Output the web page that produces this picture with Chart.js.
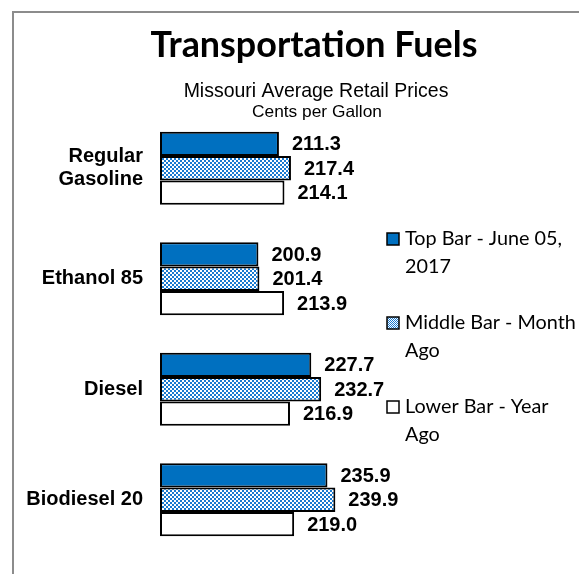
<!DOCTYPE html>
<html>
<head>
<meta charset="utf-8">
<script src="https://cdn.jsdelivr.net/npm/chart.js@4.4.1/dist/chart.umd.min.js"></script>
<style>
  html, body { margin: 0; padding: 0; background: #fff; }
  canvas { display: block; }
</style>
</head>
<body>
<canvas id="fuelChart" width="579" height="574"></canvas>
<script>
// data
const categories = [["Regular", "Gasoline"], "Ethanol 85", "Diesel", "Biodiesel 20"];
const topBar = [211.3, 200.9, 227.7, 235.9];     // June 05, 2017
const middleBar = [217.4, 201.4, 232.7, 239.9];  // month ago
const lowerBar = [214.1, 213.9, 216.9, 219.0];   // year ago
const legendLines = [
  ["Top Bar - June 05,", "2017"],
  ["Middle Bar - Month", "Ago"],
  ["Lower Bar - Year", "Ago"]
];
const axisMin = 151, axisMax = 260;

const BLUE = '#0070c0';

// dotted fill for the middle bar
function dotPattern(ctx, cell) {
  const tile = document.createElement('canvas');
  tile.width = cell * 2; tile.height = cell * 2;
  const t = tile.getContext('2d');
  t.fillStyle = '#fff';
  t.fillRect(0, 0, cell * 2, cell * 2);
  t.fillStyle = '#1a7ad0';
  t.fillRect(0, 0, cell, cell);
  t.fillRect(cell, cell, cell, cell);
  return ctx.createPattern(tile, 'repeat');
}

const canvas = document.getElementById('fuelChart');
const ctx = canvas.getContext('2d');
const dots = dotPattern(ctx, 2);

function fitSize(c, text, width, weight, family) {
  c.font = weight + ' 40px ' + family;
  return 40 * width / c.measureText(text).width;
}

// titles, frame, legend, value labels
const decorations = {
  id: 'decorations',
  afterDatasetsDraw(chart) {
    const c = chart.ctx;
    c.save();
    c.fillStyle = '#000';
    c.font = 'bold 20px "Liberation Sans", Arial, sans-serif';
    c.textAlign = 'left';
    c.textBaseline = 'middle';
    chart.data.datasets.forEach((ds, i) => {
      chart.getDatasetMeta(i).data.forEach((bar, j) => {
        c.fillText(ds.data[j].toFixed(1), bar.x + 13, bar.y + 1);
      });
    });
    c.restore();
  },
  afterDraw(chart) {
    const c = chart.ctx;
    c.save();
    // frame
    c.strokeStyle = '#8c8c8c';
    c.lineWidth = 2;
    c.beginPath();
    c.moveTo(13, 574); c.lineTo(13, 12); c.lineTo(579, 12);
    c.stroke();

    // titles
    c.fillStyle = '#000';
    c.textAlign = 'center';
    c.textBaseline = 'alphabetic';
    let s = fitSize(c, 'Transportation Fuels', 327, 'bold', 'Lato');
    c.font = 'bold ' + s + 'px Lato';
    c.fillText('Transportation Fuels', 314, 57);
    s = fitSize(c, 'Missouri Average Retail Prices', 265, 'normal', '"Liberation Sans"');
    c.font = s + 'px "Liberation Sans"';
    c.fillText('Missouri Average Retail Prices', 316, 97);
    s = fitSize(c, 'Cents per Gallon', 130, 'normal', '"Liberation Sans"');
    c.font = s + 'px "Liberation Sans"';
    c.fillText('Cents per Gallon', 317, 117);

    // legend
    const baselines = [245, 329, 413];
    s = Math.min(fitSize(c, legendLines[0][0], 163, 'normal', 'Lato'),
                 fitSize(c, legendLines[1][0], 171, 'normal', 'Lato'));
    c.font = s + 'px Lato';
    c.textAlign = 'left';
    chart.data.datasets.forEach((ds, i) => {
      const y = baselines[i];
      c.fillStyle = i === 1 ? dotPattern(c, 1) : ds.backgroundColor;
      c.fillRect(387, y - 12, 12, 12);
      c.strokeStyle = '#000';
      c.lineWidth = 1.5;
      c.strokeRect(387, y - 12, 12, 12);
      c.fillStyle = '#000';
      legendLines[i].forEach((line, k) => c.fillText(line, 405, y + k * 28));
    });
    c.restore();
  }
};

new Chart(canvas, {
  type: 'bar',
  data: {
    labels: categories,
    datasets: [
      { data: topBar, backgroundColor: BLUE },
      { data: middleBar, backgroundColor: dots },
      { data: lowerBar, backgroundColor: '#fff' }
    ]
  },
  options: {
    responsive: false,
    animation: false,
    indexAxis: 'y',
    layout: { padding: { top: 113, bottom: 19, left: 0, right: 204 } },
    datasets: {
      bar: {
        base: axisMin,
        categoryPercentage: 0.66,
        barPercentage: 1,
        borderColor: '#000',
        borderWidth: 2,
        borderSkipped: false
      }
    },
    plugins: {
      legend: { display: false },
      tooltip: { enabled: false }
    },
    scales: {
      x: { display: false, min: axisMin, max: axisMax },
      y: {
        afterFit(scale) {
          scale.width = 160;
          scale.paddingTop = 0;
          scale.paddingBottom = 0;
        },
        grid: { display: false, drawTicks: false },
        border: { display: false },
        ticks: {
          padding: 17,
          color: '#000',
          font: { family: '"Liberation Sans", Arial, sans-serif', weight: 'bold', size: 20, lineHeight: 1.15 }
        }
      }
    }
  },
  plugins: [decorations]
});
</script>
</body>
</html>
